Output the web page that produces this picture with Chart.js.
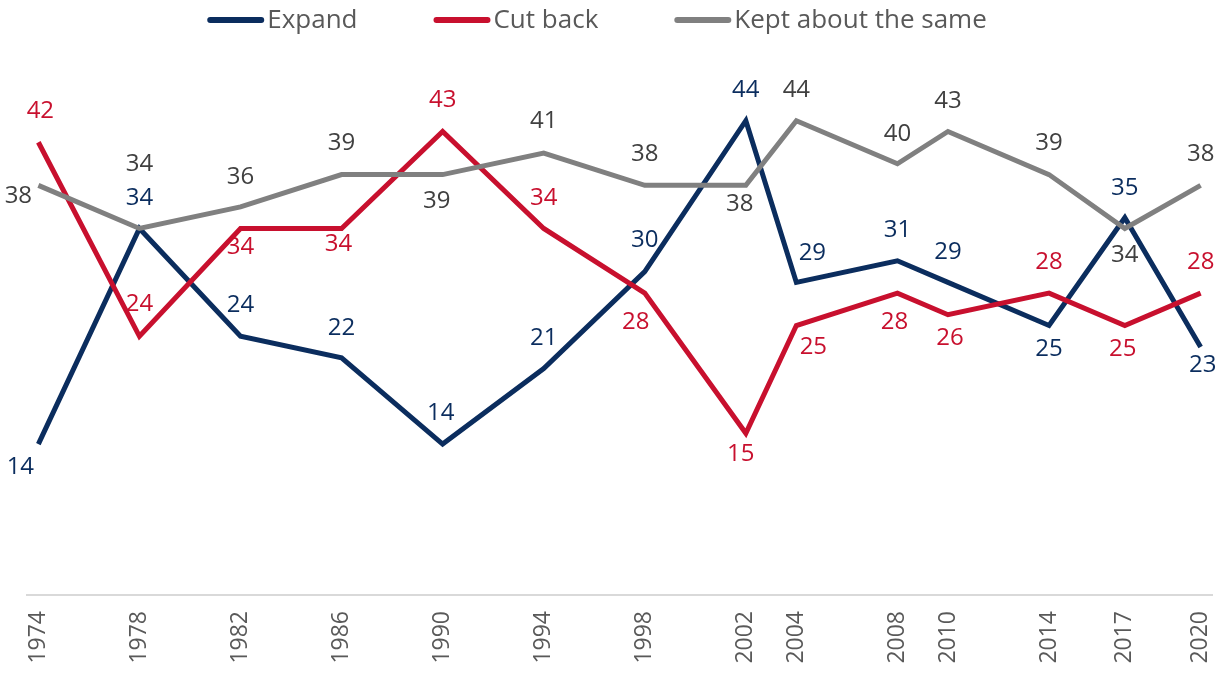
<!DOCTYPE html>
<html>
<head>
<meta charset="utf-8">
<script src="https://cdn.jsdelivr.net/npm/chart.js@4"></script>
<style>
  html, body { margin: 0; padding: 0; background: #fff; }
  #wrap { width: 1225px; height: 675px; }
</style>
</head>
<body>
<div id="wrap"><canvas id="trendChart"></canvas></div>
<script>
// survey years and the three answers (percent)
const years = [1974, 1978, 1982, 1986, 1990, 1994, 1998, 2002, 2004, 2008, 2010, 2014, 2017, 2020];
const expand = [14, 34, 24, 22, 14, 21, 30, 44, 29, 31, 29, 25, 35, 23];
const cutBack = [42, 24, 34, 34, 43, 34, 28, 15, 25, 28, 26, 28, 25, 28];
const keptSame = [38, 34, 36, 39, 39, 41, 38, 38, 44, 40, 43, 39, 34, 38];
const seriesNames = ["Expand", "Cut back", "Kept about the same"];

// where each value label sits relative to its point (dx, dy)
const expandLabelPos = [[-18, 22], [0, -31], [0, -32], [0, -31], [-2, -32], [0, -31], [0, -32], [0, -32], [16, -30], [0, -32], [0, -31], [0, 23], [0, -31], [2, 17]];
const cutLabelPos = [[2, -32], [0, -33], [0, 18], [-3, 15], [0, -32], [0, -31], [-9, 28], [-5, 20], [17, 21], [-3, 28], [2, 22], [0, -32], [-2, 23], [0, -32]];
const keptLabelPos = [[-20, 10], [0, -65], [0, -31], [0, -32], [-6, 26], [0, -33], [0, -32], [-6, 18], [0, -32], [0, -31], [0, -31], [0, -32], [0, 26], [0, -32]];

const NAVY = "#0b2d5e", RED = "#c8102e", GREY = "#808080";
const FONT = "'Open Sans', sans-serif";

function toPoints(vals) {
  return years.map((y, i) => ({ x: y, y: vals[i] }));
}

// value labels next to every point
const valueLabels = {
  id: "valueLabels",
  afterDatasetsDraw(chart) {
    const ctx = chart.ctx;
    ctx.save();
    ctx.font = "24px " + FONT;
    ctx.textAlign = "center";
    ctx.textBaseline = "middle";
    chart.data.datasets.forEach((ds, di) => {
      const meta = chart.getDatasetMeta(di);
      ctx.fillStyle = ds.labelColor;
      meta.data.forEach((pt, i) => {
        const off = ds.labelPos[i];
        ctx.fillText(String(ds.data[i].y), pt.x + off[0], pt.y + off[1] + 1);
      });
    });
    ctx.restore();
  }
};

// line-sample legend across the top
const topLegend = {
  id: "topLegend",
  afterDraw(chart) {
    const ctx = chart.ctx;
    ctx.save();
    ctx.font = "26px " + FONT;
    ctx.textBaseline = "middle";
    const lineLen = 57, gapText = 3, gapItem = 76;
    const items = chart.data.datasets.map(ds => ({ label: ds.label, color: ds.borderColor, w: ctx.measureText(ds.label).width }));
    let total = 0;
    items.forEach((it, i) => { total += lineLen + gapText + it.w + (i < items.length - 1 ? gapItem : 0); });
    let x = 597 - total / 2;
    const y = 20;
    items.forEach(it => {
      ctx.strokeStyle = it.color;
      ctx.lineWidth = 6;
      ctx.lineCap = "round";
      ctx.beginPath();
      ctx.moveTo(x + 3, y);
      ctx.lineTo(x + lineLen - 3, y);
      ctx.stroke();
      ctx.fillStyle = "#595959";
      ctx.fillText(it.label, x + lineLen + gapText, y + 1);
      x += lineLen + gapText + it.w + gapItem;
    });
    ctx.restore();
  }
};

const lineStyle = { borderWidth: 5, pointRadius: 0, pointHoverRadius: 0, tension: 0, fill: false, borderJoinStyle: "miter" };

new Chart(document.getElementById("trendChart"), {
  type: "line",
  data: {
    datasets: [
      Object.assign({ label: seriesNames[0], data: toPoints(expand), borderColor: NAVY, labelColor: NAVY, labelPos: expandLabelPos, order: 3 }, lineStyle),
      Object.assign({ label: seriesNames[1], data: toPoints(cutBack), borderColor: RED, labelColor: RED, labelPos: cutLabelPos, order: 2 }, lineStyle),
      Object.assign({ label: seriesNames[2], data: toPoints(keptSame), borderColor: GREY, labelColor: "#404040", labelPos: keptLabelPos, order: 1 }, lineStyle)
    ]
  },
  options: {
    responsive: true,
    maintainAspectRatio: false,
    animation: false,
    events: [],
    layout: { padding: { top: 56, left: 27, right: 13, bottom: 0 } },
    scales: {
      x: {
        type: "linear",
        min: 1973.55,
        max: 2020.45,
        afterBuildTicks: axis => { axis.ticks = years.map(v => ({ value: v })); },
        // fixed axis band under the plot, no extra side padding for end labels
        afterFit: axis => { axis.height = 80; axis.paddingLeft = 0; axis.paddingRight = 0; },
        grid: { display: false, drawTicks: false },
        border: { display: true, color: "#d9d9d9", width: 2 },
        ticks: {
          autoSkip: false,
          minRotation: 90,
          maxRotation: 90,
          padding: 16,
          color: "#595959",
          font: { family: FONT, size: 23 },
          callback: v => String(v)
        }
      },
      y: {
        display: false,
        min: 0,
        max: 50
      }
    },
    plugins: {
      legend: { display: false },
      tooltip: { enabled: false }
    }
  },
  plugins: [valueLabels, topLegend]
});
</script>
</body>
</html>
